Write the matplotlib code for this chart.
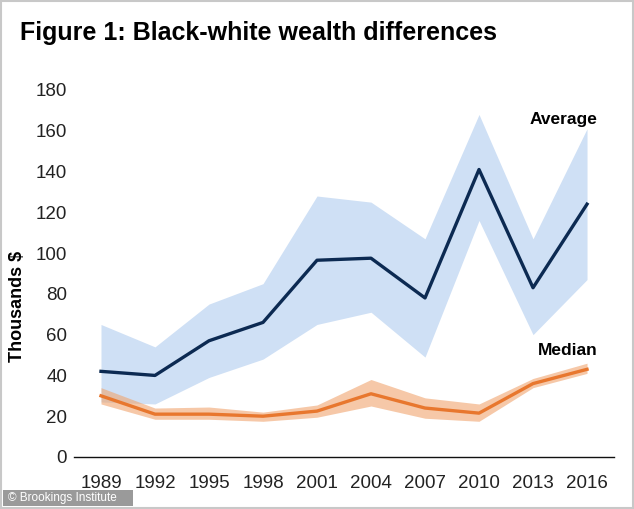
import numpy as np
import matplotlib
matplotlib.use("Agg")
import matplotlib.pyplot as plt
from matplotlib.patches import Rectangle

# Data (thousands of dollars)
years = ["1989", "1992", "1995", "1998", "2001", "2004", "2007", "2010", "2013", "2016"]
avg = [42, 40, 57, 66, 96.5, 97.5, 78, 141, 83, 124]
avg_hi = [65, 54, 75, 85, 128, 125, 107, 168, 107, 161]
avg_lo = [27, 26, 39, 48, 65, 71, 49, 116, 60, 87]
med = [30, 21, 21, 20, 22.5, 31, 24, 21.5, 36, 43]
med_hi = [34, 24, 24.5, 22, 25.5, 38, 29, 26, 38.5, 46]
med_lo = [26, 18.5, 18.5, 17.5, 19.5, 25, 19, 17.5, 34, 41]
yticks = [0, 20, 40, 60, 80, 100, 120, 140, 160, 180]

plt.rcParams['font.family'] = ['Liberation Sans', 'DejaVu Sans']

fig = plt.figure(figsize=(6.34, 5.09), dpi=100)
ax = fig.add_axes([0.1167, 0.1022, 0.8518, 0.7210])

x = np.arange(len(years))
ax.fill_between(x, avg_lo, avg_hi, color='#cfe0f5', lw=0)
ax.fill_between(x, med_lo, med_hi, color='#f0a46e', alpha=0.6, lw=0)
ax.plot(x, avg, color='#0c2a52', lw=2.4)
ax.plot(x, med, color='#e8772e', lw=2.4)

ax.set_xlim(-0.5, len(years) - 0.5)
ax.set_ylim(0, 180)
ax.set_xticks(x)
ax.set_xticklabels(years)
ax.set_yticks(yticks)
ax.tick_params(axis='x', length=0, pad=13, labelsize=13.5, colors='#222222')
ax.tick_params(axis='y', length=0, pad=5, labelsize=13.5, colors='#222222')
for s in ['top', 'right', 'left']:
    ax.spines[s].set_visible(False)
ax.spines['bottom'].set_linewidth(1.0)
ax.spines['bottom'].set_color('#111111')

ax.set_ylabel("Thousands $", fontsize=13, fontweight='bold', labelpad=4)
ax.yaxis.set_label_coords(-0.088, 0.41)

ax.text(9.2, 165.5, "Average", fontsize=12.5, fontweight='bold', ha='right', va='center')
ax.text(9.2, 52, "Median", fontsize=12.5, fontweight='bold', ha='right', va='center')

fig.text(0.032, 0.935, "Figure 1: Black-white wealth differences", fontsize=18,
         fontweight='bold', ha='left', va='center')

# footer credit box
fig.patches.append(Rectangle((0.005, 0.006), 0.205, 0.032, transform=fig.transFigure,
                             facecolor='#9a9a9a', edgecolor='none'))
fig.text(0.012, 0.022, "\u00a9 Brookings Institute", fontsize=8.5, color='white',
         ha='left', va='center')

# thin grey border round the picture
fig.patches.append(Rectangle((0.001, 0.001), 0.998, 0.997, transform=fig.transFigure,
                             facecolor='none', edgecolor='#c8c8c8', lw=1.5))

fig.savefig("out.png", dpi=100)
